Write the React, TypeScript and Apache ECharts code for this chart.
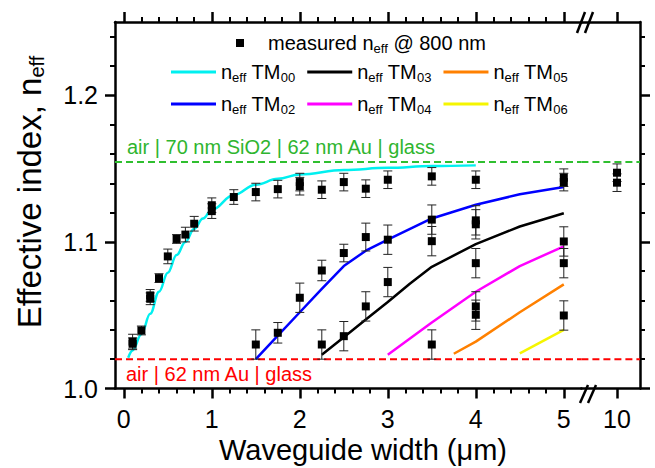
import React, { useEffect, useRef } from 'react';
import * as echarts from 'echarts';

const FONT = '"Liberation Sans", Arial, Helvetica, sans-serif';

// tick labels
const xTicks = [0, 1, 2, 3, 4, 5];
const xTicksBreak = [10];
const yTicks = [1.0, 1.1, 1.2];

// measured n_eff @ 800 nm (x in µm, y, error)
const measuredX = [
  0.1, 0.1, 0.2, 0.3, 0.3, 0.4, 0.5, 0.6, 0.7, 0.8,
  1.0, 1.0, 1.25, 1.5, 1.75, 2.0, 2.0, 2.25, 2.5, 2.75,
  3.0, 3.5, 4.0, 5.0, 5.0, 10, 10,
  1.5, 1.75, 2.0, 2.25, 2.25, 2.5, 2.5, 2.75, 2.75, 3.0, 3.0,
  3.5, 3.5, 3.5, 4.0, 4.0, 4.0, 4.0, 4.0, 5.0, 5.0, 5.0,
];
const measuredY = [
  1.032, 1.0305, 1.0396, 1.0635, 1.0612, 1.0753, 1.0901, 1.102, 1.105, 1.1124,
  1.125, 1.121, 1.1306, 1.134, 1.136, 1.1408, 1.138, 1.1356, 1.1408, 1.1363,
  1.1424, 1.1447, 1.1424, 1.1438, 1.1408, 1.1472, 1.1404,
  1.03, 1.038, 1.0619, 1.03, 1.0805, 1.0357, 1.0924, 1.056, 1.1033, 1.0726, 1.1015,
  1.03, 1.1152, 1.1005, 1.056, 1.0503, 1.0855, 1.1147, 1.112, 1.0498, 1.0855, 1.1003,
];
const measuredErr = [
  0.005, 0.004, 0.003, 0.004, 0.004, 0.003, 0.005, 0.003, 0.005, 0.005,
  0.005, 0.005, 0.005, 0.006, 0.006, 0.006, 0.006, 0.006, 0.006, 0.006,
  0.006, 0.006, 0.006, 0.006, 0.006, 0.006, 0.006,
  0.01, 0.007, 0.01, 0.01, 0.007, 0.01, 0.006, 0.01, 0.0095, 0.01, 0.01,
  0.01, 0.01, 0.01, 0.01, 0.01, 0.01, 0.01, 0.01, 0.01, 0.01, 0.01,
];

// simulated modes
const tm00X = [0.05, 0.1, 0.2, 0.3, 0.4, 0.5, 0.6, 0.7, 0.8, 0.9, 1.0, 1.25, 1.5, 1.75, 2.0, 2.5, 3.0, 3.5, 4.0];
const tm00Y = [1.021, 1.026, 1.037, 1.051, 1.066, 1.079, 1.091, 1.1, 1.109, 1.116, 1.122, 1.132, 1.139, 1.143, 1.146, 1.149, 1.1505, 1.1517, 1.1522];
const tm02X = [1.5, 1.75, 2.0, 2.25, 2.5, 2.75, 3.0, 3.5, 4.0, 4.5, 5.0];
const tm02Y = [1.02, 1.036, 1.052, 1.068, 1.0835, 1.094, 1.1015, 1.116, 1.1253, 1.1325, 1.1375];
const tm03X = [2.25, 2.5, 2.75, 3.0, 3.25, 3.5, 4.0, 4.5, 5.0];
const tm03Y = [1.023, 1.035, 1.047, 1.059, 1.0715, 1.083, 1.0985, 1.1105, 1.1195];
const tm04X = [3.0, 3.5, 4.0, 4.5, 5.0];
const tm04Y = [1.023, 1.045, 1.066, 1.0835, 1.097];
const tm05X = [3.75, 4.0, 4.5, 5.0];
const tm05Y = [1.0237, 1.032, 1.052, 1.071];
const tm06X = [4.5, 5.0];
const tm06Y = [1.024, 1.04];

// reference levels
const levelSiO2 = 1.1545;
const levelAu = 1.02;
const levelSiO2Label = 'air | 70 nm SiO2 | 62 nm Au | glass';
const levelAuLabel = 'air | 62 nm Au | glass';

const X_LEFT = [-0.1, 5.2];
const X_RIGHT = [9.5955, 10.261];

const zip = (xs: number[], ys: number[]) => xs.map((x, i) => [x, ys[i]]);

function renderErr(params: any, api: any) {
  const x = api.value(0);
  const y = api.value(1);
  const e = api.value(2);
  const hi = api.coord([x, y + e]);
  const lo = api.coord([x, y - e]);
  const c = 4.5;
  const style = { stroke: '#222', lineWidth: 1 };
  return {
    type: 'group',
    children: [
      { type: 'line', shape: { x1: hi[0], y1: hi[1], x2: lo[0], y2: lo[1] }, style },
      { type: 'line', shape: { x1: hi[0] - c, y1: hi[1], x2: hi[0] + c, y2: hi[1] }, style },
      { type: 'line', shape: { x1: lo[0] - c, y1: lo[1], x2: lo[0] + c, y2: lo[1] }, style },
    ],
  };
}

export default function App() {
  const ref = useRef<HTMLDivElement>(null);
  useEffect(() => {
    if (!ref.current) return;
    const chart = echarts.init(ref.current, null, { renderer: 'svg' });

    const pts = measuredX.map((x, i) => [x, measuredY[i], measuredErr[i]]);
    const ptsL = pts.filter((p) => p[0] <= 5.2);
    const ptsR = pts.filter((p) => p[0] > 5.2);

    const axisLine = { show: true, onZero: false, lineStyle: { color: '#000', width: 2.5 } };
    const tickStyle = { color: '#000', width: 2.5 };
    const minorTick = { show: true, splitNumber: 5, length: 5, lineStyle: { color: '#000', width: 2 } };
    const labelStyle = { color: '#000', fontSize: 25, fontFamily: FONT };
    const noSplit = { show: false };

    const xL = { type: 'value', min: X_LEFT[0], max: X_LEFT[1] };
    const xR = { type: 'value', min: X_RIGHT[0], max: X_RIGHT[1] };
    const yRange = { type: 'value', min: 1.0, max: 1.25, interval: 0.1 };

    const subStyles = {
      n: { fontSize: 20, lineHeight: 20, verticalAlign: 'top', fontFamily: FONT, color: '#000' },
      m: { fontSize: 20, lineHeight: 20, verticalAlign: 'top', fontFamily: FONT, color: '#000', padding: [0, 0, 0, 19] },
      s: { fontSize: 13, lineHeight: 13, verticalAlign: 'top', fontFamily: FONT, color: '#000', padding: [9, 0, 0, 0] },
    };
    const modeFmt = (name: string) => `{n|n}{s|eff}{n| TM}{s|${name.slice(2)}}`;

    const lineSeries = (name: string, xs: number[], ys: number[], color: string, smooth = false) => ({
      name,
      type: 'line',
      xAxisIndex: 0,
      yAxisIndex: 0,
      data: zip(xs, ys),
      symbol: 'none',
      showSymbol: false,
      smooth: smooth ? 0.4 : false,
      smoothMonotone: 'x',
      lineStyle: { color, width: 2.5 },
      itemStyle: { color },
      z: 2,
    });

    const levelSeries = (level: number, color: string, xAxisIndex: number, yAxisIndex: number, range: number[]) => ({
      type: 'line',
      xAxisIndex,
      yAxisIndex,
      data: [[range[0], level], [range[1], level]],
      symbol: 'none',
      showSymbol: false,
      silent: true,
      lineStyle: { color, width: 2, type: [7, 4] },
      z: 1,
    });

    const modeLegend = (data: string[], top: number) => ({
      data, left: 171, top, padding: 0, orient: 'horizontal',
      icon: 'rect', itemWidth: 45, itemHeight: 3, itemGap: 12, selectedMode: false,
      formatter: modeFmt,
      textStyle: { fontSize: 20, fontFamily: FONT, color: '#000', rich: subStyles },
    });

    const option: any = {
      animation: false,
      backgroundColor: '#fff',
      textStyle: { fontFamily: FONT },
      grid: [
        { left: 115, top: 22, width: 466.4, height: 366.5, outerBoundsMode: 'none', containLabel: false },
        { left: 581.4, top: 22, width: 58.6, height: 366.5, outerBoundsMode: 'none', containLabel: false },
      ],
      xAxis: [
        {
          ...xL, gridIndex: 0, position: 'bottom', axisLine,
          axisTick: { show: true, inside: false, length: 10, customValues: xTicks, lineStyle: tickStyle },
          minorTick,
          axisLabel: { show: true, customValues: xTicks, margin: 18, ...labelStyle, formatter: (v: number) => String(v) },
          splitLine: noSplit, minorSplitLine: noSplit,
        },
        {
          ...xL, gridIndex: 0, position: 'top', axisLine,
          axisTick: { show: true, inside: false, length: 10, customValues: xTicks, lineStyle: tickStyle },
          minorTick,
          axisLabel: { show: false },
          splitLine: noSplit, minorSplitLine: noSplit,
        },
        {
          ...xR, gridIndex: 1, position: 'bottom', axisLine,
          axisTick: { show: true, inside: false, length: 10, customValues: xTicksBreak, lineStyle: tickStyle },
          minorTick: { show: false },
          axisLabel: { show: true, customValues: xTicksBreak, margin: 18, ...labelStyle, formatter: (v: number) => String(v) },
          splitLine: noSplit, minorSplitLine: noSplit,
        },
        {
          ...xR, gridIndex: 1, position: 'top', axisLine,
          axisTick: { show: true, inside: false, length: 10, customValues: xTicksBreak, lineStyle: tickStyle },
          minorTick: { show: false },
          axisLabel: { show: false },
          splitLine: noSplit, minorSplitLine: noSplit,
        },
      ],
      yAxis: [
        {
          ...yRange, gridIndex: 0, position: 'left', axisLine,
          axisTick: { show: true, inside: false, length: 10, customValues: yTicks, lineStyle: tickStyle },
          minorTick,
          axisLabel: { show: true, customValues: yTicks, margin: 17, ...labelStyle, formatter: (v: number) => v.toFixed(1) },
          splitLine: noSplit, minorSplitLine: noSplit,
        },
        {
          ...yRange, gridIndex: 1, position: 'right', axisLine,
          axisTick: { show: true, inside: false, length: 10, customValues: yTicks, lineStyle: tickStyle },
          minorTick,
          axisLabel: { show: false },
          splitLine: noSplit, minorSplitLine: noSplit,
        },
      ],
      legend: [
        {
          data: ['measured'], left: 236, top: 33, padding: 0, orient: 'horizontal',
          icon: 'rect', itemWidth: 8, itemHeight: 8, selectedMode: false,
          itemStyle: { color: '#000', opacity: 1 },
          formatter: () => '{m|measured n}{s|eff}{n| @ 800 nm}',
          textStyle: { fontSize: 20, fontFamily: FONT, color: '#000', rich: subStyles },
        },
        modeLegend(['TM00', 'TM03', 'TM05'], 62),
        modeLegend(['TM02', 'TM04', 'TM06'], 94),
      ],
      series: [
        levelSeries(levelSiO2, '#2fbf2f', 0, 0, X_LEFT),
        levelSeries(levelSiO2, '#2fbf2f', 2, 1, X_RIGHT),
        levelSeries(levelAu, '#ff0000', 0, 0, X_LEFT),
        levelSeries(levelAu, '#ff0000', 2, 1, X_RIGHT),
        lineSeries('TM00', tm00X, tm00Y, '#00f0f0', true),
        lineSeries('TM02', tm02X, tm02Y, '#0000ff'),
        lineSeries('TM03', tm03X, tm03Y, '#000000'),
        lineSeries('TM04', tm04X, tm04Y, '#ff00ff'),
        lineSeries('TM05', tm05X, tm05Y, '#ff8000'),
        lineSeries('TM06', tm06X, tm06Y, '#f5f500'),
        {
          type: 'custom', xAxisIndex: 0, yAxisIndex: 0, data: ptsL,
          renderItem: renderErr, encode: { x: 0, y: 1 }, z: 3, silent: true,
        },
        {
          type: 'custom', xAxisIndex: 2, yAxisIndex: 1, data: ptsR,
          renderItem: renderErr, encode: { x: 0, y: 1 }, z: 3, silent: true,
        },
        {
          name: 'measured', type: 'scatter', xAxisIndex: 0, yAxisIndex: 0,
          data: ptsL.map((p) => [p[0], p[1]]), symbol: 'rect', symbolSize: 8,
          itemStyle: { color: '#000', opacity: 1 }, z: 4,
        },
        {
          name: 'measured', type: 'scatter', xAxisIndex: 2, yAxisIndex: 1,
          data: ptsR.map((p) => [p[0], p[1]]), symbol: 'rect', symbolSize: 8,
          itemStyle: { color: '#000', opacity: 1 }, z: 4,
        },
      ],
      graphic: [
        {
          type: 'text', x: 363, y: 450, z: 10,
          style: { text: 'Waveguide width (μm)', fontSize: 29, fontFamily: FONT, fill: '#000', align: 'center', verticalAlign: 'middle' },
        },
        {
          type: 'text', x: 29, y: 192, rotation: Math.PI / 2, z: 10,
          style: {
            text: '{a|Effective index, n}{b|eff}', align: 'center', verticalAlign: 'middle',
            rich: {
              a: { fontSize: 33, lineHeight: 33, verticalAlign: 'top', fontFamily: FONT, fill: '#000' },
              b: { fontSize: 20, lineHeight: 20, verticalAlign: 'top', fontFamily: FONT, fill: '#000', padding: [14, 0, 0, 0] },
            },
          },
        },
        { type: 'line', z: 10, shape: { x1: 577, y1: 33, x2: 585, y2: 12 }, style: { stroke: '#000', lineWidth: 2.5 } },
        { type: 'line', z: 10, shape: { x1: 585, y1: 33, x2: 593, y2: 12 }, style: { stroke: '#000', lineWidth: 2.5 } },
        { type: 'line', z: 10, shape: { x1: 580, y1: 403, x2: 588, y2: 385 }, style: { stroke: '#000', lineWidth: 2.5 } },
        { type: 'line', z: 10, shape: { x1: 588, y1: 403, x2: 596, y2: 385 }, style: { stroke: '#000', lineWidth: 2.5 } },
      ],
    };

    chart.setOption(option);

    // level labels positioned from the axis scale
    const ySiO2 = chart.convertToPixel({ yAxisIndex: 0 } as any, levelSiO2) as number;
    const yAu = chart.convertToPixel({ yAxisIndex: 0 } as any, levelAu) as number;
    chart.setOption({
      graphic: [
        {
          id: 'lblSiO2', type: 'text', x: 127, y: ySiO2 - 15, z: 10,
          style: { text: levelSiO2Label, fontSize: 20, fontFamily: FONT, fill: '#2fb52f', verticalAlign: 'middle' },
        },
        {
          id: 'lblAu', type: 'text', x: 126, y: yAu + 14.5, z: 10,
          style: { text: levelAuLabel, fontSize: 20, fontFamily: FONT, fill: '#ff0000', verticalAlign: 'middle' },
        },
      ],
    });

    return () => chart.dispose();
  }, []);

  return (
    <div
      ref={ref}
      style={{ position: 'fixed', left: 0, top: 0, width: 655, height: 468, background: '#fff' }}
    />
  );
}
